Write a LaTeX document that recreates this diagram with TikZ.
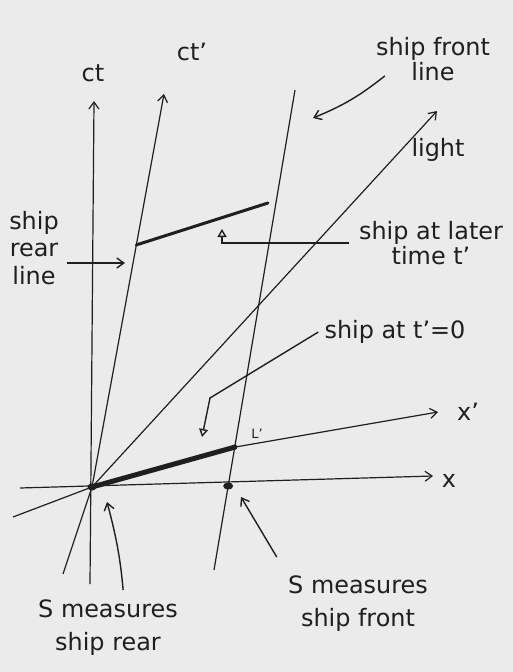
\documentclass[tikz,border=0pt]{standalone}
\usepackage{fontspec}
\setmainfont{DejaVu Sans}
\usetikzlibrary{arrows.meta,calc}
\definecolor{paper}{gray}{0.92}
\definecolor{ink}{gray}{0.12}
\begin{document}
\begin{tikzpicture}[x=1bp, y=1bp,
    axis/.style={ink, line width=1.2bp, -{Straight Barb[length=7bp,width=10bp]}},
    wline/.style={ink, line width=1.2bp},
    ship/.style={ink, line width=#1, line cap=round},
    note/.style={ink, line width=1.4bp, -{Straight Barb[length=7bp,width=10bp]}},
    notetri/.style={ink, line width=1.4bp, -{Triangle[open,length=8bp,width=9bp]}},
    hand/.style={ink, inner sep=0pt, align=center, font=\fontsize{24}{28}\selectfont}]
    \useasboundingbox (0,0) rectangle (513,-672);
    \fill[paper] (0,0) rectangle (513,-672);

    % axes and world lines
    \coordinate (O) at (92,-487);
    \coordinate (ctB) at (90,-584);
    \coordinate (ctT) at (94,-101);
    \coordinate (cpB) at (63,-574);
    \coordinate (cpT) at (164,-94);
    \coordinate (xL) at (20,-488);
    \coordinate (xR) at (433,-476);
    \coordinate (xpL) at (13,-517);
    \coordinate (xpR) at (438,-412);
    \coordinate (lightT) at (437,-111);
    \coordinate (fB) at (214,-570);
    \coordinate (fT) at (295,-90);
    \coordinate (Lp) at ($(fB)!0.256!(fT)$);
    \coordinate (fX) at ($(fB)!0.175!(fT)$);
    \coordinate (rA) at ($(O)!0.616!(cpT)$);
    \coordinate (fA) at (268,-203);

    \draw[axis] (ctB) -- (ctT);
    \draw[axis] (cpB) -- (O) -- (cpT);
    \draw[axis] (xL) -- (xR);
    \draw[axis] (xpL) -- (O) -- (Lp) -- (xpR);
    \draw[axis] (O) -- (lightT);
    \draw[wline] (fB) -- (fT);

    \draw[ship=5bp] (O) -- (Lp);
    \draw[ship=3bp] (rA) -- (fA);
    \fill[ink] (O) ellipse (4.5 and 3.5);
    \fill[ink] (fX) ellipse (5 and 3.5);
    \fill[ink] (Lp) circle (2.5);

    % labels
    \node[hand] (ct) at (93,-73) {ct};
    \node[hand] (ctp) at (192,-52) {ct'};
    \node[hand] (xl) at (449,-481) {x};
    \node[hand] (xp) at (468,-412) {x'};
    \node[hand] (lt) at (438,-150) {light};
    \node[hand, font=\fontsize{13}{15}\selectfont] (Lpl) at (257,-434) {L'};
    \node[hand, font=\fontsize{24}{25}\selectfont] (sfl) at (433,-59) {ship front\\line};
    \node[hand] (srl) at (34,-248) {ship\\rear\\line};
    \node[hand, font=\fontsize{24}{25}\selectfont] (slt) at (431,-243) {ship at later\\time t'};
    \node[hand] (st0) at (395,-332) {ship at t'=0};
    \node[hand, font=\fontsize{24}{33}\selectfont] (smr) at (108,-628) {S measures\\ship rear};
    \node[hand, font=\fontsize{24}{33}\selectfont] (smf) at (358,-604) {S measures\\ship front};

    % pointers
    \coordinate (tipF) at (313,-118);
    \coordinate (tipR) at (125,-263);
    \coordinate (tipL) at (222,-229);
    \coordinate (bend0) at (210,-398);
    \coordinate (tip0) at (202,-437);
    \coordinate (tipSR) at (107,-502);
    \coordinate (tipSF) at (241,-497);

    \draw[note] ([shift={(9,5)}]sfl.south west) to[bend left=8] (tipF);
    \draw[note, shorten <=8bp] (srl.east |- tipR) -- (tipR);
    \draw[notetri] ([xshift=-10bp]slt.west) -| (tipL);
    \draw[notetri] ([xshift=-6bp]st0.west) -- (bend0) -- (tip0);
    \draw[note, shorten <=10bp] ([xshift=16bp]smr.north) to[out=95,in=-75] (tipSR);
    \draw[note, shorten <=22bp] (smf.north west) -- (tipSF);
\end{tikzpicture}
\end{document}
